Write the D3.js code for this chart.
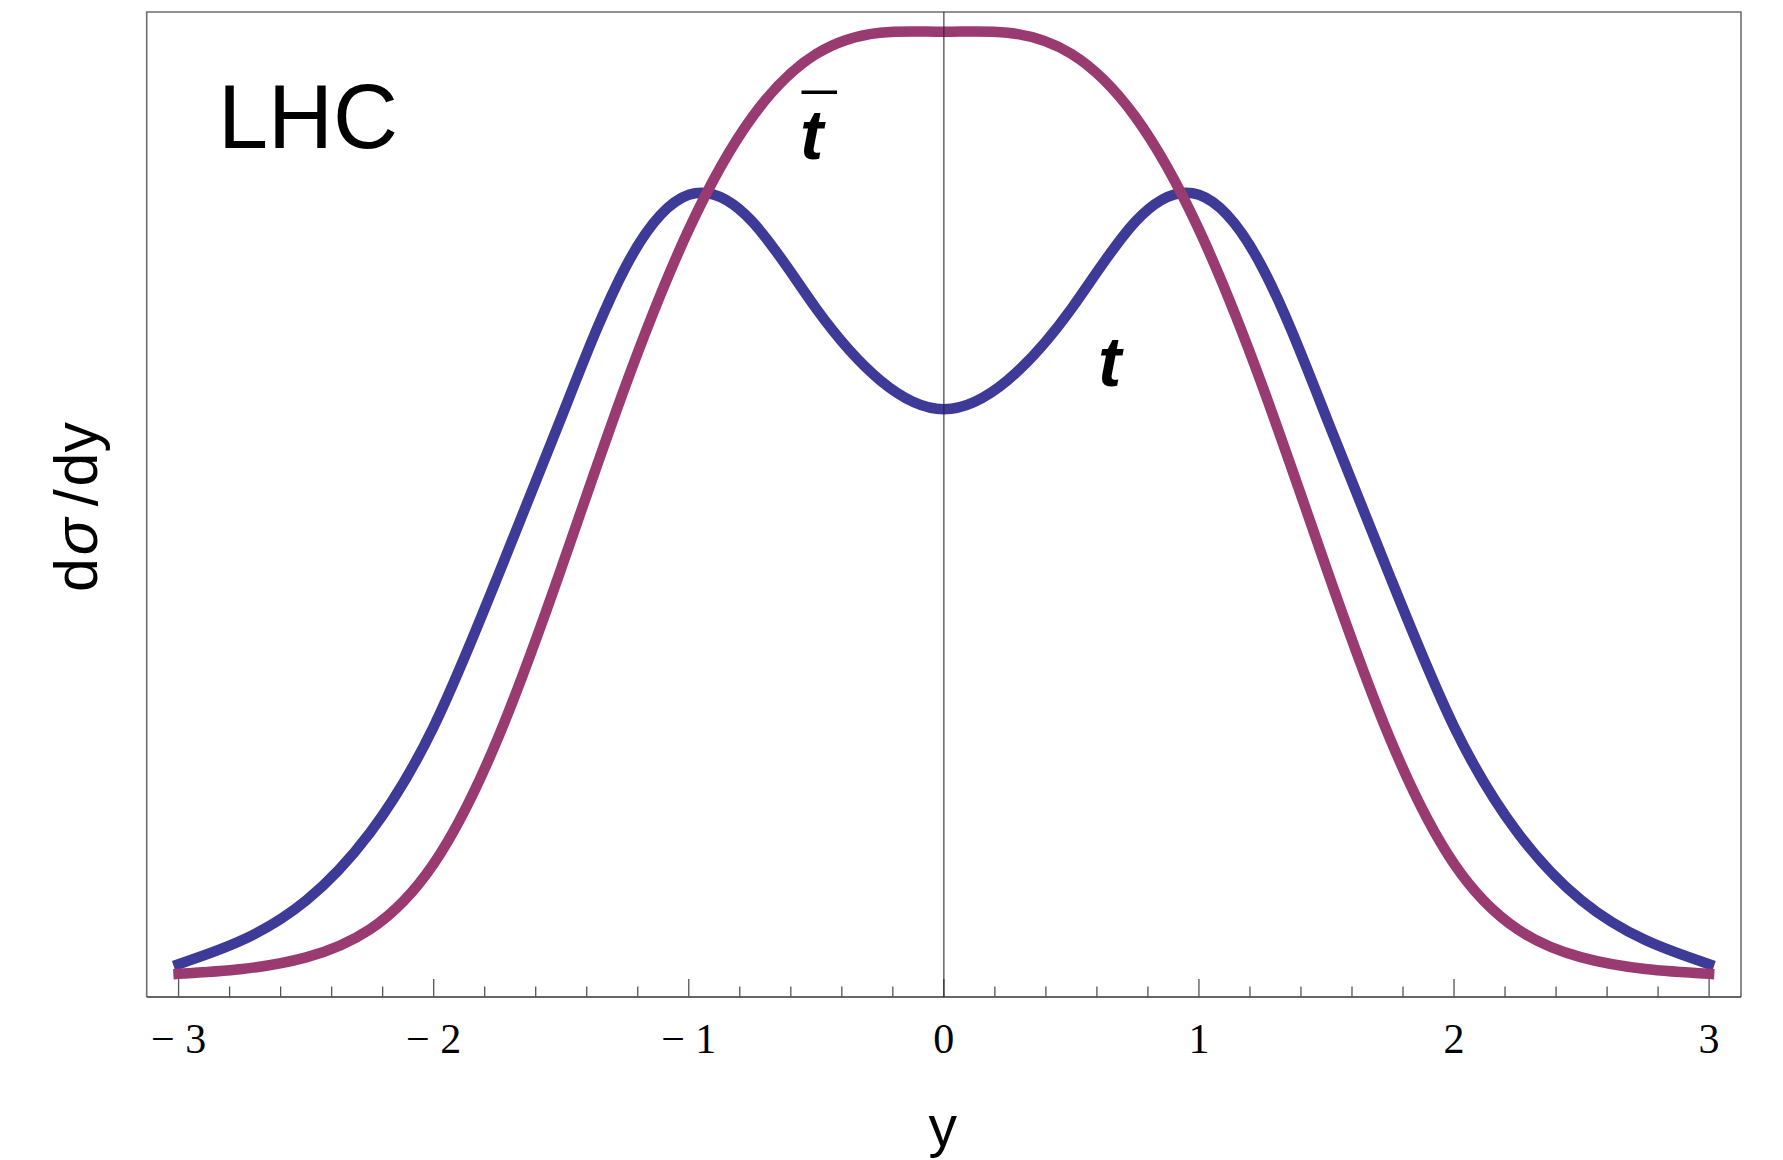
<!DOCTYPE html>
<html>
<head>
<meta charset="utf-8">
<script src="https://cdn.jsdelivr.net/npm/d3@7"></script>
<style>
  html, body { margin: 0; padding: 0; background: #fff; }
  svg { display: block; }
</style>
</head>
<body>
<svg id="chart" width="1783" height="1160"></svg>
<script>
// Rapidity samples (uniform spacing of 0.25)
const rapidity = [-3, -2.75, -2.5, -2.25, -2, -1.75, -1.5, -1.25, -1, -0.75, -0.5, -0.25, 0,
                  0.25, 0.5, 0.75, 1, 1.25, 1.5, 1.75, 2, 2.25, 2.5, 2.75, 3];

// dσ/dy for top quarks (arbitrary units)
const topValues = [3.4, 5.9, 10.0, 17.0, 28.0, 43.5, 60.0, 75.5, 83.1, 80.3, 71.3, 63.9, 60.9,
                   63.9, 71.3, 80.3, 83.1, 75.5, 60.0, 43.5, 28.0, 17.0, 10.0, 5.9, 3.4];

// dσ/dy for anti-top quarks (arbitrary units)
const antiTopValues = [2.4, 2.9, 4.1, 7.0, 13.8, 26.7, 44.4, 63.2, 79.5, 91.2, 97.7, 99.9, 100,
                       99.9, 97.7, 91.2, 79.5, 63.2, 44.4, 26.7, 13.8, 7.0, 4.1, 2.9, 2.4];

const majorTicks = [-3, -2, -1, 0, 1, 2, 3];
const tickLabels = ["\u2212 3", "\u2212 2", "\u2212 1", "0", "1", "2", "3"];

const frame = { left: 146.7, right: 1741, top: 12, bottom: 997 };

const svg = d3.select("#chart");

const x = d3.scaleLinear().domain([-3.125, 3.125]).range([frame.left, frame.right]);
const y = d3.scaleLinear().domain([0, 102.04]).range([frame.bottom, frame.top]);

// Minor ticks every 0.2
const minorTicks = d3.range(-30, 31, 2).map(d => d / 10).filter(d => !majorTicks.includes(d));

// Frame (left, top, right)
svg.append("path")
  .attr("d", `M${frame.left},${frame.bottom}V${frame.top}H${frame.right}V${frame.bottom}`)
  .attr("fill", "none")
  .attr("stroke", "#6e6e6e")
  .attr("stroke-width", 1.6);

// Bottom axis with inward ticks
const axis = svg.append("g").attr("transform", `translate(0,${frame.bottom})`);
axis.append("line")
  .attr("x1", frame.left).attr("x2", frame.right)
  .attr("stroke", "#333").attr("stroke-width", 1.6);

axis.selectAll("line.minor").data(minorTicks).join("line")
  .attr("class", "minor")
  .attr("x1", d => x(d)).attr("x2", d => x(d))
  .attr("y1", 0).attr("y2", -10.5)
  .attr("stroke", "#555").attr("stroke-width", 1.3);

axis.selectAll("line.major").data(majorTicks).join("line")
  .attr("class", "major")
  .attr("x1", d => x(d)).attr("x2", d => x(d))
  .attr("y1", 0).attr("y2", -18)
  .attr("stroke", "#555").attr("stroke-width", 1.3);

axis.selectAll("text.tick").data(majorTicks).join("text")
  .attr("class", "tick")
  .attr("x", d => x(d))
  .attr("y", 56)
  .attr("text-anchor", "middle")
  .attr("font-family", "'Liberation Serif', 'Times New Roman', serif")
  .attr("font-size", 42)
  .attr("fill", "#000")
  .text((d, i) => tickLabels[i]);

// Curves (natural cubic spline through the uniformly spaced samples)
const line = d3.line()
  .x(d => x(d[0]))
  .y(d => y(d[1]))
  .curve(d3.curveNatural);

const series = [
  { name: "t", values: topValues, color: "#3d3a98" },
  { name: "tbar", values: antiTopValues, color: "#993a70" }
];

svg.selectAll("path.curve").data(series).join("path")
  .attr("class", "curve")
  .attr("d", s => line(rapidity.map((r, i) => [r, s.values[i]])))
  .attr("fill", "none")
  .attr("stroke", s => s.color)
  .attr("stroke-width", 10.5)
  .attr("stroke-linecap", "square")
  .attr("stroke-linejoin", "round");

// Vertical axis at y = 0
svg.append("line")
  .attr("x1", x(0)).attr("x2", x(0))
  .attr("y1", frame.top).attr("y2", frame.bottom)
  .attr("stroke", "#222")
  .attr("stroke-opacity", 0.75)
  .attr("stroke-width", 1.4);

// Annotations
const sans = "'Liberation Sans', Arial, Helvetica, sans-serif";

svg.append("text")
  .attr("x", 218).attr("y", 148)
  .attr("font-family", sans)
  .attr("font-size", 90)
  .attr("fill", "#000")
  .text("LHC");

const tbar = svg.append("g");
tbar.append("text")
  .attr("x", 800).attr("y", 159)
  .attr("font-family", sans)
  .attr("font-size", 70)
  .attr("font-style", "italic")
  .attr("font-weight", "bold")
  .attr("fill", "#000")
  .text("t");
tbar.append("line")
  .attr("x1", 801.5).attr("x2", 837)
  .attr("y1", 92.3).attr("y2", 92.3)
  .attr("stroke", "#000").attr("stroke-width", 3.5);

svg.append("text")
  .attr("x", 1098).attr("y", 386)
  .attr("font-family", sans)
  .attr("font-size", 70)
  .attr("font-style", "italic")
  .attr("font-weight", "bold")
  .attr("fill", "#000")
  .text("t");

// Axis titles
const yTitle = svg.append("text")
  .attr("transform", "translate(97,507) rotate(-90)")
  .attr("text-anchor", "middle")
  .attr("font-family", sans)
  .attr("font-size", 61)
  .attr("fill", "#000");
yTitle.append("tspan").text("d");
yTitle.append("tspan").attr("dx", 3).attr("font-style", "italic").text("\u03c3");
yTitle.append("tspan").attr("dx", 12).text("/");
yTitle.append("tspan").attr("dx", 3).text("dy");

svg.append("text")
  .attr("x", x(0) - 1).attr("y", 1146)
  .attr("text-anchor", "middle")
  .attr("font-family", sans)
  .attr("font-size", 57)
  .attr("fill", "#000")
  .text("y");
</script>
</body>
</html>
